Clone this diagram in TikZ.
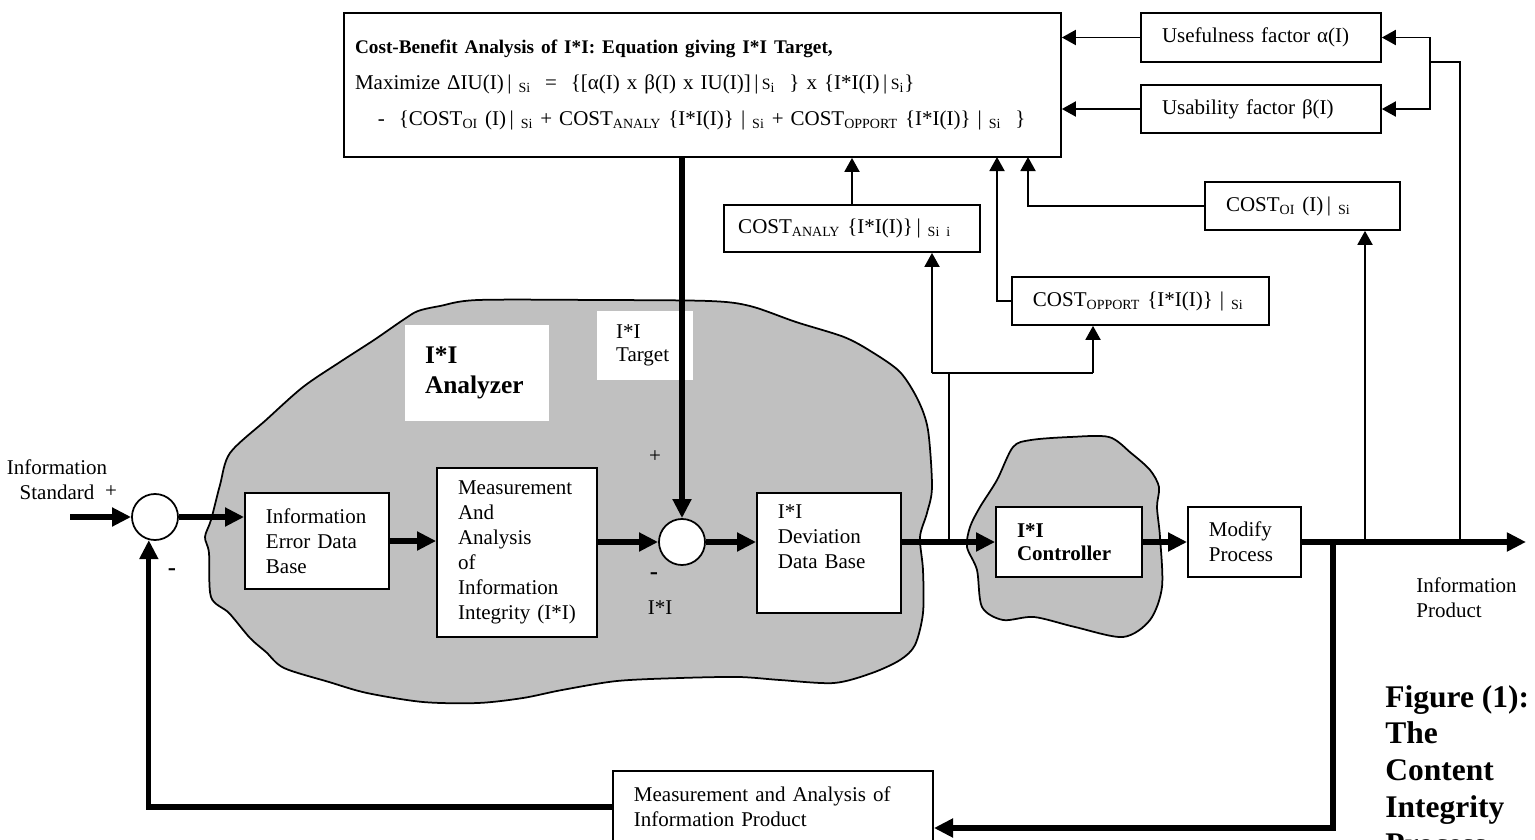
\documentclass[tikz,border=0pt]{standalone}
\usepackage{fontspec}
\setmainfont{Liberation Serif}
\usepackage{tikz}
\usetikzlibrary{arrows.meta}
\definecolor{blobgray}{RGB}{192,192,192}
\hyphenpenalty=10000

\begin{document}
\begin{tikzpicture}[x=0.5714pt, y=-0.5714pt,
      every node/.style={font=\fontsize{12}{14.3}\selectfont},
      block/.style={rectangle, draw, fill=white, line width=1pt, align=left, inner xsep=12pt, inner ysep=0pt},
      tag/.style={rectangle, fill=white, align=left, inner xsep=11pt, inner ysep=0pt},
      sum/.style={circle, draw, fill=white, line width=1pt, minimum size=26.3pt, inner sep=0pt},
      line/.style={draw, line width=1pt, -{Triangle[length=8pt,width=8.6pt]}},
      wire/.style={draw, line width=1pt},
      thickline/.style={draw, line width=3pt, -{Triangle[length=10.9pt,width=10.3pt]}},
      blob/.style={fill=blobgray, draw, line width=1pt},
      sign/.style={font=\fontsize{14}{14}\selectfont\bfseries}]

      \useasboundingbox (0,0) rectangle (1535,840);
      \clip (0,0) rectangle (1535,840);

      % Clouds
      \path[blob] plot[smooth cycle, tension=0.5] coordinates {(478,300) (600,300) (709,301) (750,306) (796,322) (844,337) (872,352) (900,372) (918,400) (928,430) (932,487) (927,513) (920,537) (923,570) (923,613) (915,645) (900,660) (872,673) (834,683) (780,680) (739,677) (680,678) (617,681) (562,690) (523,698) (478,703) (423,702) (367,693) (329,682) (284,668) (266,652) (250,638) (229,613) (211,597) (209,553) (205,537) (211,520) (220,485) (230,453) (266,420) (303,387) (340,362) (374,340) (403,320) (418,311) (440,306)};
      \path[blob] plot[smooth cycle, tension=0.5] coordinates {(1031,440) (1070,437) (1109,437) (1131,453) (1150,470) (1159,487) (1157,507) (1160,537) (1162,587) (1150,620) (1123,637) (1075,627) (1034,617) (1003,620) (982,607) (977,570) (967,547) (970,527) (980,507) (997,480) (1013,447)};

      \node[tag, text width=59.4pt, minimum height=54.9pt, inner xsep=11.4pt, font=\fontsize{14.5}{17.1}\selectfont\bfseries] (analyzer) at (477,373) {I*I\\Analyzer};
      \node[tag, text width=33pt, minimum height=39.4pt, font=\fontsize{12}{13.1}\selectfont] (target) at (645,345.5) {I*I\\Target};

      % Nodes
      \node[block, text width=397.1pt, inner xsep=6.3pt, minimum height=82.3pt] (cba) at (702.5,85) {%
        {\fontsize{11}{13}\selectfont\bfseries Cost-Benefit Analysis of I*I: Equation giving I*I Target,}\\[6pt]
        Maximize ΔIU(I)\,|\ \textsubscript{Si}\ \ =\ \ \{[α(I) x β(I) x IU(I)]\,|\,{\small S}\textsubscript{i}\ \ \} x \{I*I(I)\,|\,{\small S}\textsubscript{i}\}\\[6pt]
        \hspace*{13pt}-\ \ \{COST\textsubscript{OI} (I)\,|\ \textsubscript{Si} + COST\textsubscript{ANALY} \{I*I(I)\}\ |\ \textsubscript{Si} + COST\textsubscript{OPPORT} \{I*I(I)\}\ |\ \textsubscript{Si}\ \ \}};
      \node[block, text width=113.1pt, minimum height=28pt] (use) at (1261,37.5) {Usefulness factor α(I)};
      \node[block, text width=113.1pt, minimum height=27.4pt] (usab) at (1261,109) {Usability factor β(I)};
      \node[block, text width=87.4pt, minimum height=27.4pt] (coi) at (1302.5,206) {COST\textsubscript{OI} (I)\,|\ \textsubscript{Si}};
      \node[block, text width=130pt, inner xsep=8.15pt, minimum height=26.9pt] (cana) at (852,228.5) {\mbox{COST\textsubscript{ANALY} \{I*I(I)\}\,|\ \textsubscript{Si i}}};
      \node[block, text width=122.9pt, minimum height=27.4pt] (copp) at (1140.5,301) {COST\textsubscript{OPPORT} \{I*I(I)\}\ |\ \textsubscript{Si}};

      \node[sum] (c1) at (155,517) {};
      \node[block, text width=58.3pt, minimum height=54.9pt] (ieb) at (317,541) {Information\\Error Data\\Base};
      \node[block, text width=67.4pt, minimum height=96.6pt] (maa) at (517,552.5) {Measurement\\And\\Analysis\\of\\Information\\Integrity (I*I)};
      \node[sum] (c2) at (682,542) {};
      \node[block, text width=58.3pt, minimum height=68.6pt] (ddb) at (829,553) {I*I\\Deviation\\Data Base\\\strut};
      \node[block, text width=59.4pt, minimum height=40pt, font=\fontsize{12}{13.1}\selectfont\bfseries] (ctrl) at (1069,542) {I*I\\Controller};
      \node[block, text width=40.6pt, minimum height=40pt] (mod) at (1244.5,542) {Modify\\Process};
      \node[block, text width=158.9pt, minimum height=41.1pt] (mip) at (773,807) {Measurement and Analysis of\\Information Product};

      \coordinate (src) at (70,517);
      \coordinate (out) at (1526,542);
      \coordinate (tapfb) at (1333,542);
      \coordinate (tapoi) at (1365,542);
      \coordinate (tapuse) at (1460,542);
      \coordinate (split) at (1430,62);
      \coordinate (tapcost) at (949,542);
      \coordinate (busL) at (932,373);
      \coordinate (busR) at (1093,373);
      \coordinate (inopp) at (997,157);
      \coordinate (inoi) at (1028,157);

      % Edges
      \path[thickline] (src) -- (c1.west);
      \path[thickline] (c1.east) -- (c1.east -| ieb.west);
      \path[thickline] (ieb.east) -- (ieb.east -| maa.west);
      \path[thickline] (maa.east |- c2) -- (c2.west);
      \path[thickline] (c2 |- cba.south) -- (c2.north);
      \path[thickline] (c2.east) -- (c2.east -| ddb.west);
      \path[thickline] (ddb.east |- c2) -- (ctrl.west);
      \path[thickline] (ctrl.east) -- (mod.west);
      \path[thickline] (mod.east) -- (out);
      \path[thickline] (tapfb) |- ([yshift=-12pt]mip.east);
      \path[thickline] (mip.west) -| (c1.-105);

      \path[wire] (tapcost) -- (tapcost |- busL);
      \path[wire] (busL) -- (busR);
      \path[line] (busL) -- (busL |- cana.south);
      \path[line] (busR) -- (busR |- copp.south);
      \path[line] (cana.north) -- (cana.north |- cba.south);
      \path[line] (copp.west) -| (inopp);
      \path[line] (coi.west) -| (inoi);
      \path[line] (tapoi) -- (tapoi |- coi.south);
      \path[line] (tapuse) |- (split) |- (use.east);
      \path[line] (split) |- (usab.east);
      \path[line] (use.west) -- (use.west -| cba.east);
      \path[line] (usab.west) -- (usab.west -| cba.east);

      % Annotations
      \node[align=center] (infostd) at (57,480) {Information\\Standard};
      \node (plusA) at (111,492) {+};
      \node[sign] (minusA) at (172,572) {-};
      \node (plusB) at (655,457) {+};
      \node[sign] (minusB) at (654,576) {-};
      \node (lblii) at (660,608) {I*I};
      \node[anchor=west, align=left, inner sep=0pt] (outlbl) at (1416,597.5) {Information\\Product};
      \node[anchor=north west, align=left, inner sep=0pt, font=\fontsize{18}{21}\selectfont\bfseries] (figlbl) at (1385,685) {Figure (1):\\The\\Content\\Integrity\\Process};

    \end{tikzpicture}
\end{document}
